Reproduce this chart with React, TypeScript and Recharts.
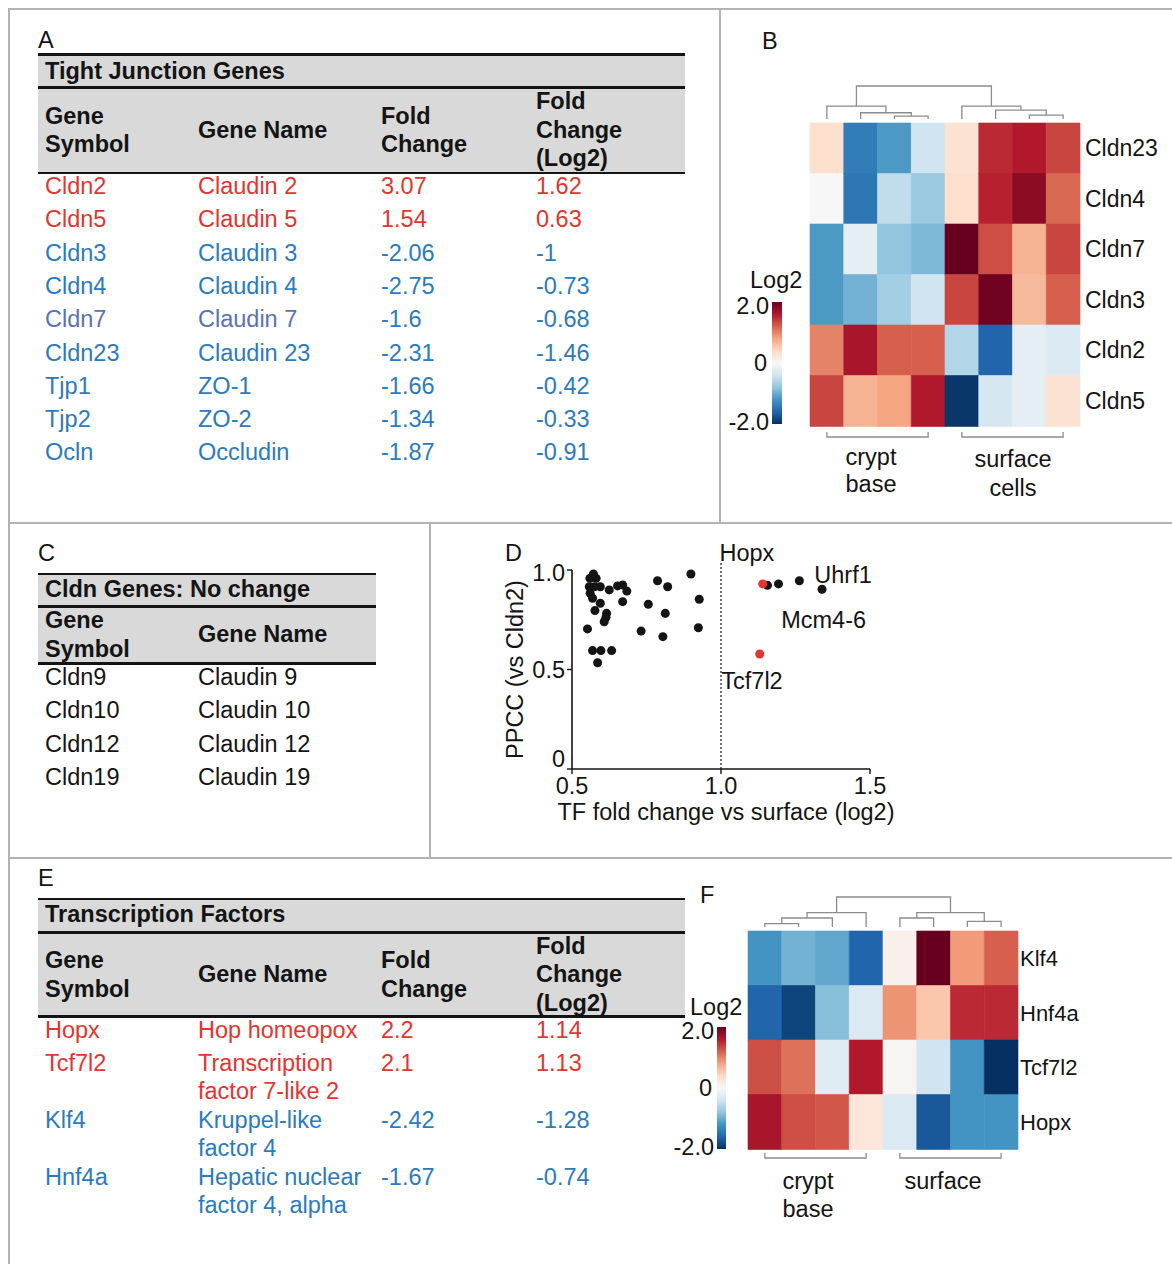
import React from 'react';
import {
  BarChart,
  Bar,
  Cell,
  XAxis,
  YAxis,
  ZAxis,
  ScatterChart,
  Scatter,
  ReferenceLine,
  ReferenceDot,
} from 'recharts';

const FONT = '"Liberation Sans", Arial, Helvetica, sans-serif';
const FS = 23.5;
const INK = '#141414';
const RED = '#e3342f';
const BLUE = '#2b7abd';
const SLATE = '#5a72b4';
const BAND = '#d9d9d9';
const FRAME = '#b3b3b3';
const TREE = '#8c8c8c';

// A: tight junction genes
const tjSymbols = ['Cldn2', 'Cldn5', 'Cldn3', 'Cldn4', 'Cldn7', 'Cldn23', 'Tjp1', 'Tjp2', 'Ocln'];
const tjNames = ['Claudin 2', 'Claudin 5', 'Claudin 3', 'Claudin 4', 'Claudin 7', 'Claudin 23', 'ZO-1', 'ZO-2', 'Occludin'];
const tjFold = [3.07, 1.54, -2.06, -2.75, -1.6, -2.31, -1.66, -1.34, -1.87];
const tjLog2 = [1.62, 0.63, -1, -0.73, -0.68, -1.46, -0.42, -0.33, -0.91];

// C: claudins without change
const ncSymbols = ['Cldn9', 'Cldn10', 'Cldn12', 'Cldn19'];
const ncNames = ['Claudin 9', 'Claudin 10', 'Claudin 12', 'Claudin 19'];

// E: transcription factors
const tfSymbols = ['Hopx', 'Tcf7l2', 'Klf4', 'Hnf4a'];
const tfNames = ['Hop homeopox', 'Transcription\nfactor 7-like 2', 'Kruppel-like\nfactor 4', 'Hepatic nuclear\nfactor 4, alpha'];
const tfFold = [2.2, 2.1, -2.42, -1.67];
const tfLog2 = [1.14, 1.13, -1.28, -0.74];

// B: claudin heatmap (log2, rows x samples)
const samples = ['cb1', 'cb2', 'cb3', 'cb4', 'sc1', 'sc2', 'sc3', 'sc4'];
const heatBGenes = ['Cldn23', 'Cldn4', 'Cldn7', 'Cldn3', 'Cldn2', 'Cldn5'];
const heatBValues = [
  [0.35, -1.4, -1.15, -0.4, 0.3, 1.5, 1.6, 1.35],
  [0.0, -1.45, -0.5, -0.75, 0.35, 1.55, 1.8, 1.15],
  [-1.15, -0.2, -0.8, -0.9, 2.0, 1.3, 0.7, 1.35],
  [-1.15, -0.95, -0.7, -0.4, 1.35, 1.95, 0.65, 1.2],
  [1.0, 1.65, 1.2, 1.2, -0.6, -1.6, -0.2, -0.3],
  [1.35, 0.7, 0.8, 1.6, -1.95, -0.35, -0.2, 0.3],
];
// [left, right, height]; ids >= 8 are earlier merges
const treeB: [number, number, number][] = [
  [2, 3, 0.09],
  [1, 8, 0.19],
  [0, 9, 0.39],
  [6, 7, 0.12],
  [5, 11, 0.27],
  [4, 12, 0.39],
  [10, 13, 1.0],
];

// F: transcription factor heatmap
const heatFGenes = ['Klf4', 'Hnf4a', 'Tcf7l2', 'Hopx'];
const heatFValues = [
  [-1.2, -0.95, -1.05, -1.6, 0.1, 2.0, 0.85, 1.2],
  [-1.6, -1.85, -0.85, -0.3, 0.9, 0.55, 1.5, 1.5],
  [1.3, 1.1, -0.25, 1.6, 0.05, -0.4, -1.2, -2.0],
  [1.65, 1.3, 1.25, 0.25, -0.3, -1.7, -1.2, -1.2],
];
const treeF: [number, number, number][] = [
  [0, 1, 0.11],
  [8, 2, 0.3],
  [9, 3, 0.48],
  [4, 5, 0.3],
  [6, 7, 0.19],
  [11, 12, 0.48],
  [10, 13, 1.0],
];

// D: TF fold change vs correlation with Cldn2
const otherFold = [
  0.572, 0.56, 0.581, 0.558, 0.575, 0.595, 0.561, 0.625, 0.653, 0.67, 0.684, 0.569,
  0.595, 0.67, 0.577, 0.616, 0.614, 0.608, 0.552, 0.569, 0.597, 0.633, 0.586, 0.787,
  0.821, 0.899, 0.927, 0.756, 0.813, 0.732, 0.805, 0.924, 1.156, 1.193, 1.263, 1.339,
];
const otherPpcc = [
  0.98, 0.958, 0.958, 0.916, 0.916, 0.916, 0.883, 0.9, 0.92, 0.925, 0.894, 0.858,
  0.833, 0.841, 0.796, 0.782, 0.762, 0.74, 0.704, 0.595, 0.595, 0.595, 0.534, 0.946,
  0.916, 0.98, 0.853, 0.828, 0.782, 0.693, 0.665, 0.71, 0.923, 0.93, 0.946, 0.903,
];
const redGenes = ['Hopx', 'Tcf7l2'];
const redPpcc = [0.93, 0.578];
const tagText = ['Hopx', 'Uhrf1', 'Mcm4-6', 'Tcf7l2'];
const tagFold = [0.995, 1.313, 1.202, 1.001];
const tagPpcc = [1.085, 0.975, 0.749, 0.442];

const RDBU = ['#053061', '#2166ac', '#4393c3', '#92c5de', '#d1e5f0', '#f7f7f7', '#fddbc7', '#f4a582', '#d6604d', '#b2182b', '#67001f'];

const hex = (c: string) => [1, 3, 5].map((i) => parseInt(c.slice(i, i + 2), 16));

function rdbu(v: number) {
  const t = Math.max(0, Math.min(1, (v + 2) / 4)) * (RDBU.length - 1);
  const i = Math.min(RDBU.length - 2, Math.floor(t));
  const f = t - i;
  const a = hex(RDBU[i]);
  const b = hex(RDBU[i + 1]);
  const m = a.map((x, k) => Math.round(x + (b[k] - x) * f));
  return `rgb(${m[0]},${m[1]},${m[2]})`;
}

const signColor = (v: number) => (v > 0 ? RED : BLUE);

// --- table pieces ---
const Rule = ({ x, y, w }: { x: number; y: number; w: number }) => (
  <div style={{ position: 'absolute', left: x, top: y, width: w, height: 2.5, background: INK }} />
);

const Band = ({ x, y, w, h }: { x: number; y: number; w: number; h: number }) => (
  <div style={{ position: 'absolute', left: x, top: y, width: w, height: h, background: BAND }} />
);

const Txt = ({ x, top, color = INK, bold, lh = 28, children }: any) => (
  <div
    style={{
      position: 'absolute',
      left: x,
      top,
      lineHeight: `${lh}px`,
      fontSize: FS,
      fontWeight: bold ? 700 : 400,
      color,
      whiteSpace: 'pre',
    }}
  >
    {children}
  </div>
);

// header texts centred in the grey band
const HeaderCells = ({ cols, colX, center }: { cols: string[]; colX: number[]; center: number }) => (
  <>
    {cols.map((c, i) => {
      const n = c.split('\n').length;
      return (
        <Txt key={c} x={colX[i]} top={center - (n * 28.5) / 2} lh={28.5} bold>
          {c}
        </Txt>
      );
    })}
  </>
);

const rowTops = (names: string[], start: number) => {
  const tops: number[] = [];
  let y = start;
  names.forEach((n) => {
    tops.push(y);
    y += n.includes('\n') ? 57 : 33.3;
  });
  return tops;
};

const COLS = [45, 198, 381, 536];

function TightJunctionTable() {
  const tops = rowTops(tjNames, 172);
  return (
    <>
      <Txt x={38} top={26}>A</Txt>
      <Rule x={38} y={53} w={647} />
      <Band x={38} y={55.5} w={647} h={30.5} />
      <Txt x={45} top={57} bold>Tight Junction Genes</Txt>
      <Rule x={38} y={86} w={647} />
      <Band x={38} y={88.5} w={647} h={83} />
      <HeaderCells cols={['Gene\nSymbol', 'Gene Name', 'Fold\nChange', 'Fold\nChange\n(Log2)']} colX={COLS} center={130} />
      <Rule x={38} y={171.5} w={647} />
      {tjSymbols.map((s, i) => {
        const c = signColor(tjFold[i]);
        const lead = s === 'Cldn7' ? SLATE : c;
        return (
          <React.Fragment key={s}>
            <Txt x={COLS[0]} top={tops[i]} color={lead}>{s}</Txt>
            <Txt x={COLS[1]} top={tops[i]} color={lead}>{tjNames[i]}</Txt>
            <Txt x={COLS[2]} top={tops[i]} color={c}>{String(tjFold[i])}</Txt>
            <Txt x={COLS[3]} top={tops[i]} color={c}>{String(tjLog2[i])}</Txt>
          </React.Fragment>
        );
      })}
    </>
  );
}

function NoChangeTable() {
  const tops = rowTops(ncNames, 663);
  return (
    <>
      <Txt x={38} top={539}>C</Txt>
      <Rule x={38} y={572.5} w={338} />
      <Band x={38} y={575} w={338} h={30} />
      <Txt x={45} top={575} bold>Cldn Genes: No change</Txt>
      <Rule x={38} y={605} w={338} />
      <Band x={38} y={607.5} w={338} h={54.5} />
      <HeaderCells cols={['Gene\nSymbol', 'Gene Name']} colX={COLS} center={634.5} />
      <Rule x={38} y={662} w={338} />
      {ncSymbols.map((s, i) => (
        <React.Fragment key={s}>
          <Txt x={COLS[0]} top={tops[i]}>{s}</Txt>
          <Txt x={COLS[1]} top={tops[i]}>{ncNames[i]}</Txt>
        </React.Fragment>
      ))}
    </>
  );
}

function TranscriptionTable() {
  const tops = rowTops(tfNames, 1016);
  return (
    <>
      <Txt x={38} top={864}>E</Txt>
      <Rule x={38} y={897.5} w={647} />
      <Band x={38} y={900} w={647} h={31} />
      <Txt x={45} top={900} bold>Transcription Factors</Txt>
      <Rule x={38} y={931} w={647} />
      <Band x={38} y={933.5} w={647} h={81.5} />
      <HeaderCells cols={['Gene\nSymbol', 'Gene Name', 'Fold\nChange', 'Fold\nChange\n(Log2)']} colX={COLS} center={974.5} />
      <Rule x={38} y={1015} w={647} />
      {tfSymbols.map((s, i) => {
        const c = signColor(tfFold[i]);
        return (
          <React.Fragment key={s}>
            <Txt x={COLS[0]} top={tops[i]} color={c}>{s}</Txt>
            <Txt x={COLS[1]} top={tops[i]} color={c}>{tfNames[i]}</Txt>
            <Txt x={COLS[2]} top={tops[i]} color={c}>{String(tfFold[i])}</Txt>
            <Txt x={COLS[3]} top={tops[i]} color={c}>{String(tfLog2[i])}</Txt>
          </React.Fragment>
        );
      })}
    </>
  );
}

// --- heatmaps: stacked unit bars, one cell per sample ---
function Heatmap({ genes, values, left, top, width, height, labelWidth, fontSize, gap }: any) {
  const rows = genes.map((g: string) => {
    const r: any = { gene: g };
    samples.forEach((k) => (r[k] = 1));
    return r;
  });
  return (
    <div style={{ position: 'absolute', left, top }}>
      <BarChart
        width={width}
        height={height}
        data={rows}
        layout="vertical"
        margin={{ top: 13, right: 0, bottom: 14, left: 10 }}
        barCategoryGap={0}
        barGap={0}
      >
        <XAxis type="number" hide domain={[0, samples.length]} />
        <YAxis
          type="category"
          dataKey="gene"
          orientation="right"
          width={labelWidth}
          axisLine={false}
          tickLine={false}
          tickSize={0}
          tickMargin={gap}
          interval={0}
          tick={{ fontSize, fill: INK }}
        />
        {samples.map((k, j) => (
          <Bar key={k} dataKey={k} stackId="heat" isAnimationActive={false}>
            {values.map((row: number[], i: number) => (
              <Cell key={i} fill={rdbu(row[j])} stroke={rdbu(row[j])} strokeWidth={0.6} />
            ))}
          </Bar>
        ))}
      </BarChart>
    </div>
  );
}

// dendrogram segments above the heatmap columns
function dendroLines(tree: [number, number, number][], x0: number, cellW: number, baseY: number, span: number) {
  const n = samples.length;
  const pos: { x: number; y: number }[] = samples.map((_, j) => ({ x: x0 + (j + 0.5) * cellW, y: baseY }));
  const out: JSX.Element[] = [];
  tree.forEach(([a, b, h], k) => {
    const y = baseY - h * span;
    const pa = pos[a];
    const pb = pos[b];
    out.push(
      <polyline
        key={`${n + k}`}
        points={`${pa.x},${pa.y} ${pa.x},${y} ${pb.x},${y} ${pb.x},${pb.y}`}
        fill="none"
        stroke={TREE}
        strokeWidth={1.3}
      />
    );
    pos.push({ x: (pa.x + pb.x) / 2, y });
  });
  return out;
}

function GroupBracket({ x0, cellW, from, to, y }: any) {
  const a = x0 + (from + 0.5) * cellW;
  const b = x0 + (to + 0.5) * cellW;
  return (
    <polyline points={`${a},${y - 5} ${a},${y} ${b},${y} ${b},${y - 5}`} fill="none" stroke={TREE} strokeWidth={1.3} />
  );
}

function ColorBar({ id, x, y, w, h, labelRight, logX, logY }: any) {
  return (
    <g>
      <defs>
        <linearGradient id={id} x1="0" y1="0" x2="0" y2="1">
          {RDBU.slice().reverse().map((c, i) => (
            <stop key={i} offset={`${(i / (RDBU.length - 1)) * 100}%`} stopColor={c} />
          ))}
        </linearGradient>
      </defs>
      <rect x={x} y={y} width={w} height={h} fill={`url(#${id})`} />
      <text x={logX} y={logY} fontSize={FS} fill={INK} dominantBaseline="central">Log2</text>
      <text x={labelRight} y={y + 4} fontSize={FS} fill={INK} textAnchor="end" dominantBaseline="central">2.0</text>
      <text x={labelRight - 2} y={y + h / 2} fontSize={FS} fill={INK} textAnchor="end" dominantBaseline="central">0</text>
      <text x={labelRight} y={y + h - 2} fontSize={FS} fill={INK} textAnchor="end" dominantBaseline="central">-2.0</text>
    </g>
  );
}

const CELL = 270 / 8;

// --- scatter axis titles and ticks ---
const XTitle = (props: any) => {
  const vb = props.viewBox || { x: 82, y: 239, width: 298, height: 50 };
  return (
    <text x={vb.x + vb.width / 2 + 5} y={vb.y + 43} textAnchor="middle" dominantBaseline="central" fontSize={FS} fill={INK}>
      TF fold change vs surface (log2)
    </text>
  );
};

const YTitle = (props: any) => {
  const vb = props.viewBox || { x: 22, y: 40, width: 60, height: 199 };
  const cx = vb.x + 3;
  const cy = vb.y + vb.height / 2;
  return (
    <text x={cx} y={cy} transform={`rotate(-90 ${cx} ${cy})`} textAnchor="middle" dominantBaseline="central" fontSize={FS} fill={INK}>
      PPCC (vs Cldn2)
    </text>
  );
};

// the zero label sits a little above the x axis
const YTick = (props: any) => {
  const { x, y, payload } = props;
  const v = payload.value as number;
  const dy = v === 0 ? -10 : v === 1 ? 3 : 0;
  return (
    <text x={x} y={y + dy} textAnchor="end" dominantBaseline="central" fontSize={FS} fill={INK}>
      {v === 0 ? '0' : v.toFixed(1)}
    </text>
  );
};

function TfScatter() {
  const others = otherFold.map((x, i) => ({ x, y: otherPpcc[i] }));
  const reds = redGenes.map((g, i) => ({ x: tfLog2[tfSymbols.indexOf(g)], y: redPpcc[i] }));
  return (
    <div style={{ position: 'absolute', left: 490, top: 530 }}>
      <ScatterChart width={420} height={300} margin={{ top: 40, right: 40, left: 22, bottom: 11 }}>
        <XAxis
          type="number"
          dataKey="x"
          domain={[0.5, 1.5]}
          ticks={[0.5, 1, 1.5]}
          interval={0}
          tickFormatter={(v: number) => v.toFixed(1)}
          height={50}
          axisLine={{ stroke: INK, strokeWidth: 1.6 }}
          tickLine={{ stroke: INK, strokeWidth: 1.4 }}
          tickSize={5}
          tickMargin={3}
          tick={{ fontSize: FS, fill: INK }}
          label={XTitle}
        />
        <YAxis
          type="number"
          dataKey="y"
          domain={[0, 1]}
          ticks={[0, 0.5, 1]}
          interval={0}
          width={60}
          axisLine={{ stroke: INK, strokeWidth: 1.6 }}
          tickLine={{ stroke: INK, strokeWidth: 1.4 }}
          tickSize={5}
          tickMargin={2}
          tick={YTick}
          label={YTitle}
        />
        <ZAxis range={[66, 66]} />
        <ReferenceLine
          segment={[{ x: 1, y: 0 }, { x: 1, y: 1.04 }]}
          stroke={INK}
          strokeWidth={1.2}
          strokeDasharray="2 2"
          ifOverflow="visible"
        />
        <Scatter data={others} fill={INK} isAnimationActive={false} />
        <Scatter data={reds} fill={RED} isAnimationActive={false} />
        {tagText.map((t, i) => (
          <ReferenceDot
            key={t}
            x={tagFold[i]}
            y={tagPpcc[i]}
            r={0}
            fill="none"
            stroke="none"
            ifOverflow="visible"
            label={{ value: t, position: 'right', offset: 0, fontSize: FS, fill: INK }}
          />
        ))}
      </ScatterChart>
    </div>
  );
}

export default function App() {
  return (
    <div
      style={{
        position: 'absolute',
        left: 0,
        top: 0,
        width: 1172,
        height: 1264,
        overflow: 'hidden',
        background: '#fff',
        fontFamily: FONT,
        color: INK,
      }}
    >
      <TightJunctionTable />
      <NoChangeTable />
      <TranscriptionTable />

      <Heatmap genes={heatBGenes} values={heatBValues} left={800} top={110} width={372} height={330} labelWidth={92} fontSize={23} gap={5} />
      <Heatmap genes={heatFGenes} values={heatFValues} left={738} top={918} width={434} height={245} labelWidth={154} fontSize={22} gap={2} />

      <TfScatter />

      <svg width={1172} height={1264} style={{ position: 'absolute', left: 0, top: 0, pointerEvents: 'none' }}>
        {/* panel frame */}
        <g stroke={FRAME} strokeWidth={2}>
          <line x1={8} y1={9} x2={1172} y2={9} />
          <line x1={9} y1={8} x2={9} y2={1264} />
          <line x1={720} y1={9} x2={720} y2={523} />
          <line x1={8} y1={523} x2={1172} y2={523} />
          <line x1={430} y1={523} x2={430} y2={858} />
          <line x1={8} y1={858} x2={1172} y2={858} />
        </g>

        <text x={762} y={41} fontSize={FS} fill={INK} dominantBaseline="central">B</text>
        <text x={505} y={553} fontSize={FS} fill={INK} dominantBaseline="central">D</text>
        <text x={700} y={895} fontSize={FS} fill={INK} dominantBaseline="central">F</text>

        {/* B decorations */}
        {dendroLines(treeB, 810, CELL, 119, 33)}
        <GroupBracket x0={810} cellW={CELL} from={0} to={3} y={437} />
        <GroupBracket x0={810} cellW={CELL} from={4} to={7} y={437} />
        <text x={871} y={457} fontSize={FS} fill={INK} textAnchor="middle" dominantBaseline="central">crypt</text>
        <text x={871} y={484} fontSize={FS} fill={INK} textAnchor="middle" dominantBaseline="central">base</text>
        <text x={1013} y={459} fontSize={FS} fill={INK} textAnchor="middle" dominantBaseline="central">surface</text>
        <text x={1013} y={488} fontSize={FS} fill={INK} textAnchor="middle" dominantBaseline="central">cells</text>
        <ColorBar id="cbB" x={772} y={302} w={10} h={122} labelRight={769} logX={750} logY={280} />

        {/* F decorations */}
        {dendroLines(treeF, 748, CELL, 927, 30)}
        <GroupBracket x0={748} cellW={CELL} from={0} to={3} y={1158} />
        <GroupBracket x0={748} cellW={CELL} from={4} to={7} y={1158} />
        <text x={808} y={1181} fontSize={FS} fill={INK} textAnchor="middle" dominantBaseline="central">crypt</text>
        <text x={808} y={1209} fontSize={FS} fill={INK} textAnchor="middle" dominantBaseline="central">base</text>
        <text x={943} y={1181} fontSize={FS} fill={INK} textAnchor="middle" dominantBaseline="central">surface</text>
        <ColorBar id="cbF" x={717} y={1027} w={9} h={122} labelRight={714} logX={690} logY={1007} />
      </svg>
    </div>
  );
}
